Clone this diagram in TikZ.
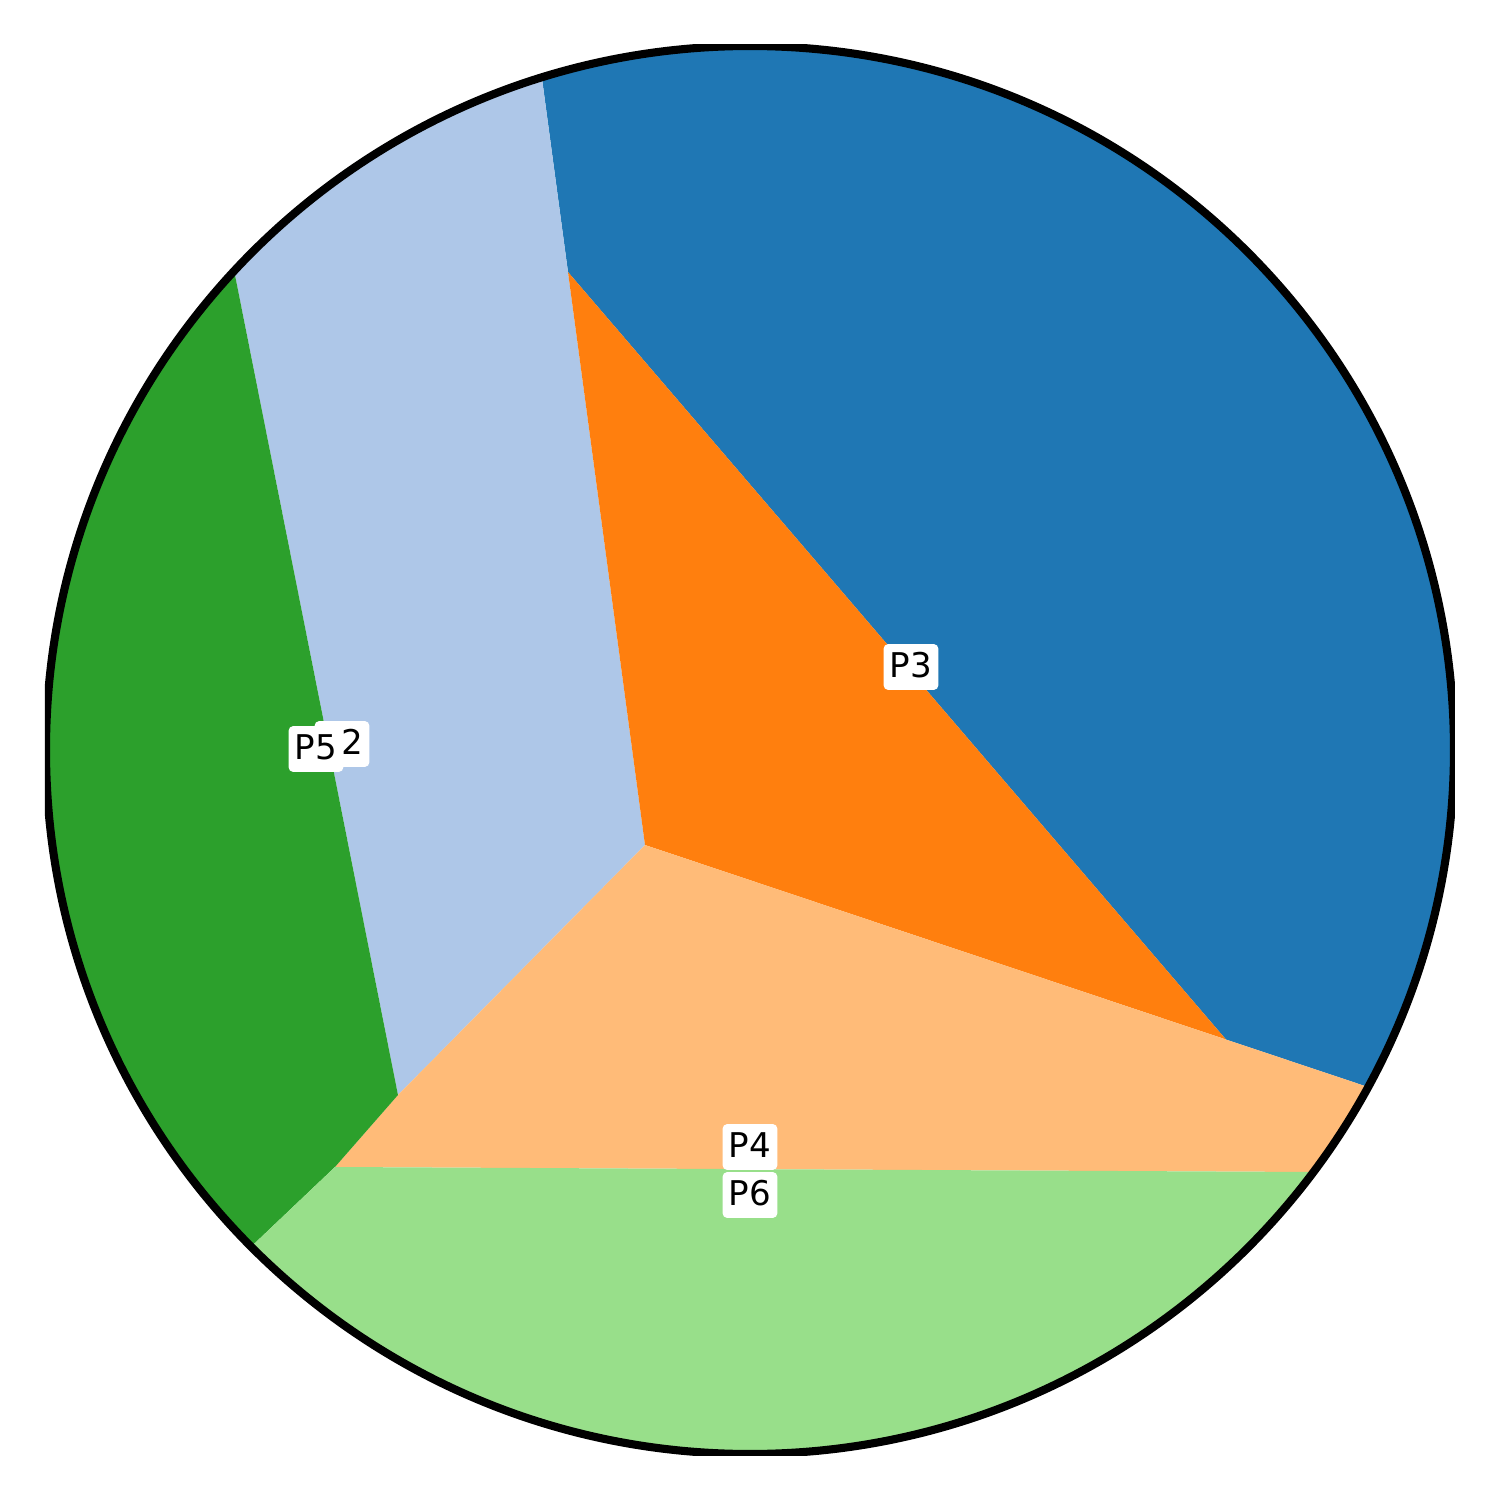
\documentclass[tikz,border=0pt]{standalone}
\usepackage{fontspec}
\setmainfont{DejaVu Sans}
\definecolor{tabblue}{HTML}{1F77B4}
\definecolor{tablightblue}{HTML}{AEC7E8}
\definecolor{taborange}{HTML}{FF7F0E}
\definecolor{tablightorange}{HTML}{FFBB78}
\definecolor{tabgreen}{HTML}{2CA02C}
\definecolor{tablightgreen}{HTML}{98DF8A}
\tikzset{cell label/.style={font=\fontsize{9.7}{11.6}\selectfont, fill=white, rounded corners=1.2pt,
    inner xsep=1.75pt, inner ysep=2.3pt, text height=7.1pt, text depth=1.3pt}}
\begin{document}
\begin{tikzpicture}
  \useasboundingbox (-7.5,-7.5) rectangle (7.5,7.5);
  \begin{scope}
    \clip (0.000,0.000) circle (7.030);
    \fill[tabblue] (-1.820,4.780) -- (-2.205,7.645) -- (8.000,8.000) -- (8.000,-3.979) -- (4.760,-2.895) -- cycle;
    \fill[tablightblue] (-1.820,4.780) -- (-2.205,7.645) -- (-8.000,8.000) -- (-5.476,6.390) -- (-3.520,-3.450) -- (-1.050,-0.950) -- cycle;
    \fill[taborange] (-1.820,4.780) -- (4.760,-2.895) -- (-1.050,-0.950) -- cycle;
    \fill[tablightorange] (-1.050,-0.950) -- (4.760,-2.895) -- (8.000,-3.979) -- (8.000,-4.232) -- (-4.150,-4.170) -- (-3.520,-3.450) -- cycle;
    \fill[tabgreen] (-8.000,8.000) -- (-5.476,6.390) -- (-3.520,-3.450) -- (-4.150,-4.170) -- (-6.550,-6.450) -- (-8.000,-8.000) -- cycle;
    \fill[tablightgreen] (-4.150,-4.170) -- (8.000,-4.232) -- (8.000,-8.000) -- (-8.000,-8.000) -- (-6.550,-6.450) -- cycle;
  \end{scope}
  \begin{scope}
    \clip (-7.050,-7.050) rectangle (7.050,7.050);
    \draw[line width=2.3pt] (0.000,0.000) circle (7.040);
  \end{scope}
  \node[cell label] (p2) at (-4.080,0.060) {P2};
  \node[cell label] (p5) at (-4.340,0.010) {P5};
  \node[cell label] (p3) at (1.610,0.830) {P3};
  \node[cell label] (p4) at (0.000,-3.970) {P4};
  \node[cell label] (p6) at (0.000,-4.450) {P6};
\end{tikzpicture}
\end{document}
